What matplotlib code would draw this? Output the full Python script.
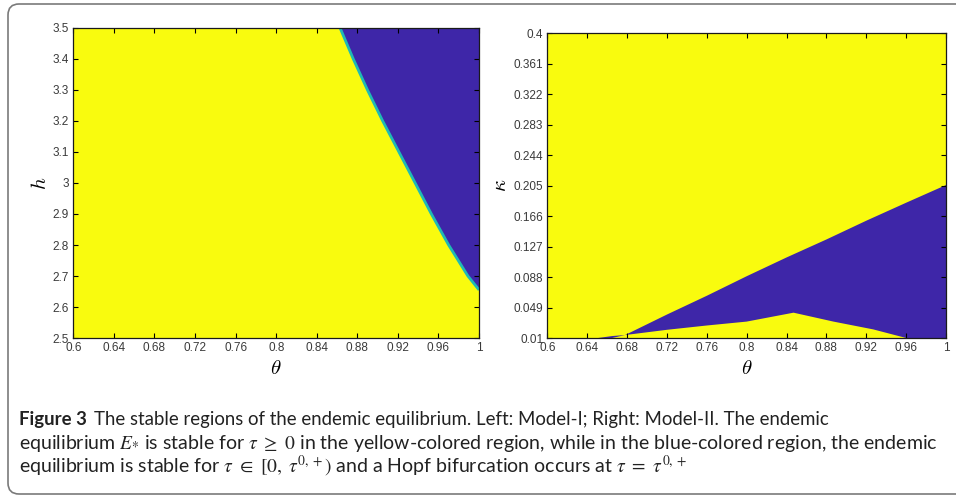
import matplotlib
matplotlib.use('Agg')
import matplotlib.pyplot as plt
from matplotlib.patches import FancyBboxPatch
from matplotlib.transforms import IdentityTransform

# Model-I: boundary of the blue region (theta vs h)
h_bound = [3.5, 3.4, 3.3, 3.2, 3.1, 3.0, 2.9, 2.8, 2.7, 2.655]
theta_bound = [0.863, 0.876, 0.890, 0.905, 0.921, 0.937, 0.953, 0.970, 0.989, 1.0]

# Model-II: upper and lower edges of the blue wedge (theta vs kappa)
theta_up = [0.651, 0.665, 0.678, 0.72, 0.76, 0.80, 0.84, 0.88, 0.92, 0.96, 1.0]
kappa_up = [0.01, 0.0125, 0.0138, 0.040, 0.064, 0.089, 0.113, 0.136, 0.160, 0.183, 0.2056]
theta_lo = [0.651, 0.665, 0.678, 0.72, 0.76, 0.80, 0.847, 0.887, 0.927, 0.96, 1.0]
kappa_lo = [0.01, 0.01, 0.0138, 0.0205, 0.026, 0.031, 0.0424, 0.031, 0.021, 0.01, 0.01]

theta_ticks = [0.6, 0.64, 0.68, 0.72, 0.76, 0.8, 0.84, 0.88, 0.92, 0.96, 1]
h_ticks = [2.5, 2.6, 2.7, 2.8, 2.9, 3, 3.1, 3.2, 3.3, 3.4, 3.5]
kappa_ticks = [0.01, 0.049, 0.088, 0.127, 0.166, 0.205, 0.244, 0.283, 0.322, 0.361, 0.4]

YELLOW = '#F9FB0E'
BLUE = '#3E26A8'
CYAN = '#1FBAB4'


def fmt(v):
    s = ('%.3f' % v).rstrip('0').rstrip('.')
    return s


def styleAxes(ax, yticks, ylabel, ylim, ylabx):
    ax.set_facecolor(YELLOW)
    ax.set_xlim(0.6, 1.0)
    ax.set_ylim(*ylim)
    ax.set_xticks(theta_ticks)
    ax.set_xticklabels([fmt(t) for t in theta_ticks])
    ax.set_yticks(yticks)
    ax.set_yticklabels([fmt(t) for t in yticks])
    ax.tick_params(direction='in', length=3.5, width=0.8, top=True, right=True,
                   labelsize=8.5, labelcolor='#3a3a3a', pad=3)
    for lab in ax.get_xticklabels() + ax.get_yticklabels():
        lab.set_fontfamily('Liberation Sans')
    for sp in ax.spines.values():
        sp.set_linewidth(0.9)
        sp.set_color('#1a1a1a')
        sp.set_zorder(5)
    ax.set_xlabel(r'$\theta$', fontsize=15, math_fontfamily='cm', va='center', ha='center')
    ax.set_ylabel(ylabel, fontsize=15, math_fontfamily='cm', va='center', ha='center')
    ax.xaxis.set_label_coords(0.5, -0.097)
    ax.yaxis.set_label_coords(ylabx, 0.5)


def main():
    fig = plt.figure(figsize=(9.56, 4.97), dpi=100)

    box = FancyBboxPatch((8, 3), 1000, 490, boxstyle='round,pad=0,rounding_size=11',
                         transform=IdentityTransform(), facecolor='white',
                         edgecolor='#7a7a7a', linewidth=1.2, zorder=-1)
    fig.patches.append(box)

    ax1 = fig.add_axes([0.0767, 0.3199, 0.4244, 0.6238])
    ax1.fill_betweenx(h_bound, theta_bound, 1.0, color=BLUE, linewidth=0)
    ax1.plot(theta_bound, h_bound, color=CYAN, linewidth=2.0, solid_capstyle='butt',
             solid_joinstyle='round')
    styleAxes(ax1, h_ticks, '$h$', (2.5, 3.5), -0.082)

    ax2 = fig.add_axes([0.5725, 0.3199, 0.4171, 0.6137])
    ax2.fill(theta_up + theta_lo[::-1], kappa_up + kappa_lo[::-1], color=BLUE, linewidth=0)
    styleAxes(ax2, kappa_ticks, r'$\kappa$', (0.01, 0.4), -0.119)

    x0 = 19 / 956
    fs = 13.4
    fs2 = 14.0
    fam = 'Lato'
    t = fig.text(x0, 1 - 420 / 497, 'Figure 3', fontsize=fs, fontweight='bold',
                 family=fam, va='center', color='#222222')
    line1 = 'The stable regions of the endemic equilibrium. Left: Model-I; Right: Model-II. The endemic'
    line2 = (r'equilibrium $E_{*}$ is stable for $\tau\ \geq\ 0$ in the yellow-colored region, '
             r'while in the blue-colored region, the endemic')
    line3 = (r'equilibrium is stable for $\tau\ \in\ [0,\ \tau^{0,+})$ and a Hopf bifurcation '
             r'occurs at $\tau\ =\ \tau^{0,+}$')
    ax2.annotate(line1, xy=(1, 0.5), xycoords=t, xytext=(5, 0), textcoords='offset points',
                 fontsize=fs, family=fam, va='center', color='#222222',
                 annotation_clip=False)
    fig.text(x0, 1 - 443 / 497, line2, fontsize=fs2, family=fam, va='center',
             color='#222222', math_fontfamily='stix')
    fig.text(x0, 1 - 466 / 497, line3, fontsize=fs2, family=fam, va='center',
             color='#222222', math_fontfamily='stix')

    fig.savefig('out.png', dpi=100)


if __name__ == '__main__':
    main()
